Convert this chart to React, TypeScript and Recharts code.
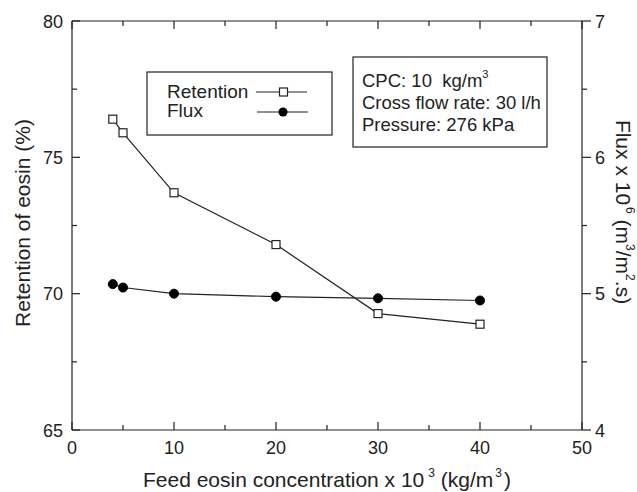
import { CartesianGrid, ComposedChart, Line, XAxis, YAxis } from "recharts";

const concentrations = [4, 5, 10, 20, 30, 40];
const retentionValues = [76.4, 75.9, 73.7, 71.8, 69.27, 68.88];
const fluxValues = [5.07, 5.045, 5.0, 4.978, 4.966, 4.95];

const xTicks = [0, 5, 10, 15, 20, 25, 30, 35, 40, 45, 50];
const xLabels = [0, 10, 20, 30, 40, 50];
const leftTicks = [65, 67.5, 70, 72.5, 75, 77.5, 80];
const leftLabels = [65, 70, 75, 80];
const rightTicks = [4, 4.5, 5, 5.5, 6, 6.5, 7];
const rightLabels = [4, 5, 6, 7];

const data = concentrations.map((c, i) => ({
  conc: c,
  retention: retentionValues[i],
  flux: fluxValues[i]
}));

const ink = "#222";
const font = "'Liberation Sans', Arial, Helvetica, sans-serif";

function BottomTick(props: any) {
  const { x, y, payload } = props;
  const major = xLabels.includes(payload.value);
  return (
    <g>
      <line x1={x} x2={x} y1={y} y2={y - (major ? 8 : 5)} stroke={ink} strokeWidth={1.2} />
      {major && (
        <text x={x} y={y + 24} textAnchor="middle" fontSize={18} fill={ink} fontFamily={font}>
          {payload.value}
        </text>
      )}
    </g>
  );
}

function TopTick(props: any) {
  const { x, y, payload } = props;
  const major = xLabels.includes(payload.value);
  return <line x1={x} x2={x} y1={y} y2={y + (major ? 8 : 5)} stroke={ink} strokeWidth={1.2} />;
}

function LeftTick(props: any) {
  const { x, y, payload } = props;
  const major = leftLabels.includes(payload.value);
  return (
    <g>
      <line x1={x} x2={x + (major ? 8 : 5)} y1={y} y2={y} stroke={ink} strokeWidth={1.2} />
      {major && (
        <text x={x - 9} y={y + 6.5} textAnchor="end" fontSize={18} fill={ink} fontFamily={font}>
          {payload.value}
        </text>
      )}
    </g>
  );
}

function RightTick(props: any) {
  const { x, y, payload } = props;
  const major = rightLabels.includes(payload.value);
  return (
    <g>
      <line x1={x} x2={x + (major ? 9 : 5)} y1={y} y2={y} stroke={ink} strokeWidth={1.2} />
      {major && (
        <text x={x + 13} y={y + 6.5} textAnchor="start" fontSize={18} fill={ink} fontFamily={font}>
          {payload.value}
        </text>
      )}
    </g>
  );
}

function SquareDot(props: any) {
  const { cx, cy } = props;
  if (cx == null || cy == null) return null;
  return <rect x={cx - 4} y={cy - 4} width={8} height={8} fill="#fff" stroke={ink} strokeWidth={1.2} />;
}

function CircleDot(props: any) {
  const { cx, cy } = props;
  if (cx == null || cy == null) return null;
  return <circle cx={cx} cy={cy} r={4.5} fill="#000" stroke="#000" />;
}

function Overlay() {
  return (
    <svg
      width={637}
      height={492}
      style={{ position: "absolute", left: 0, top: 0, pointerEvents: "none" }}
      fontFamily={font}
      fill={ink}
    >
      {/* series legend */}
      <rect x={147} y={72} width={185} height={63} fill="#fff" stroke={ink} strokeWidth={1.2} />
      <text x={167} y={98} fontSize={19}>Retention</text>
      <text x={167} y={117} fontSize={19}>Flux</text>
      <line x1={256} x2={307} y1={92} y2={92} stroke={ink} strokeWidth={1.2} />
      <rect x={279.5} y={88} width={8} height={8} fill="#fff" stroke={ink} strokeWidth={1.2} />
      <line x1={257} x2={308} y1={112} y2={112} stroke={ink} strokeWidth={1.2} />
      <circle cx={283} cy={112} r={4.5} fill="#000" />

      {/* conditions box */}
      <rect x={353} y={57} width={194} height={90} fill="#fff" stroke={ink} strokeWidth={1.2} />
      <text x={362} y={87} fontSize={18.5}>
        CPC: 10{"\u00a0\u00a0"}kg/m
        <tspan fontSize={11} dy={-9}>3</tspan>
      </text>
      <text x={362} y={109} fontSize={18.5}>Cross flow rate: 30 l/h</text>
      <text x={362} y={131} fontSize={18.5}>Pressure: 276 kPa</text>

      {/* axis titles */}
      <text x={327} y={487} fontSize={21} textAnchor="middle">
        Feed eosin concentration x 10
        <tspan fontSize={12} dx={4} dy={-10}>3</tspan>
        <tspan dy={10}> (kg/m</tspan>
        <tspan fontSize={12} dx={2} dy={-10}>3</tspan>
        <tspan dx={2} dy={10}>)</tspan>
      </text>
      <text x={0} y={0} fontSize={21} textAnchor="middle" transform="translate(30 223) rotate(-90)">
        Retention of eosin (%)
      </text>
      <text x={0} y={0} fontSize={21} textAnchor="middle" transform="translate(616 212) rotate(90)">
        Flux x 10
        <tspan fontSize={12} dx={2} dy={-10}>6</tspan>
        <tspan dy={10}> (m</tspan>
        <tspan fontSize={12} dy={-10}>3</tspan>
        <tspan dy={10}>/m</tspan>
        <tspan fontSize={12} dy={-10}>2</tspan>
        <tspan dy={10}>.s)</tspan>
      </text>
    </svg>
  );
}

export default function App() {
  return (
    <div style={{ position: "absolute", left: 0, top: 0, width: 637, height: 492, background: "#fff" }}>
      <ComposedChart width={637} height={492} data={data} margin={{ top: 0, right: 0, bottom: 0, left: 0 }}>
        <CartesianGrid stroke="none" />
        <XAxis
          xAxisId="bottom"
          dataKey="conc"
          type="number"
          domain={[0, 50]}
          ticks={xTicks}
          interval={0}
          height={62}
          tickSize={0}
          tickMargin={0}
          tickLine={false}
          tick={<BottomTick />}
          axisLine={{ stroke: ink, strokeWidth: 1.2 }}
        />
        <XAxis
          xAxisId="top"
          orientation="top"
          dataKey="conc"
          type="number"
          domain={[0, 50]}
          ticks={xTicks}
          interval={0}
          height={21}
          tickSize={0}
          tickMargin={0}
          tickLine={false}
          tick={<TopTick />}
          axisLine={{ stroke: ink, strokeWidth: 1.2 }}
        />
        <YAxis
          yAxisId="left"
          type="number"
          domain={[65, 80]}
          ticks={leftTicks}
          interval={0}
          width={72}
          tickSize={0}
          tickMargin={0}
          tickLine={false}
          tick={<LeftTick />}
          axisLine={{ stroke: ink, strokeWidth: 1.2 }}
        />
        <YAxis
          yAxisId="right"
          orientation="right"
          type="number"
          domain={[4, 7]}
          ticks={rightTicks}
          interval={0}
          width={55}
          tickSize={0}
          tickMargin={0}
          tickLine={false}
          tick={<RightTick />}
          axisLine={{ stroke: ink, strokeWidth: 1.2 }}
        />
        <Line
          xAxisId="bottom"
          yAxisId="left"
          dataKey="retention"
          stroke={ink}
          strokeWidth={1.2}
          dot={<SquareDot />}
          activeDot={false}
          isAnimationActive={false}
        />
        <Line
          xAxisId="bottom"
          yAxisId="right"
          dataKey="flux"
          stroke={ink}
          strokeWidth={1.2}
          dot={<CircleDot />}
          activeDot={false}
          isAnimationActive={false}
        />
      </ComposedChart>
      <Overlay />
    </div>
  );
}
